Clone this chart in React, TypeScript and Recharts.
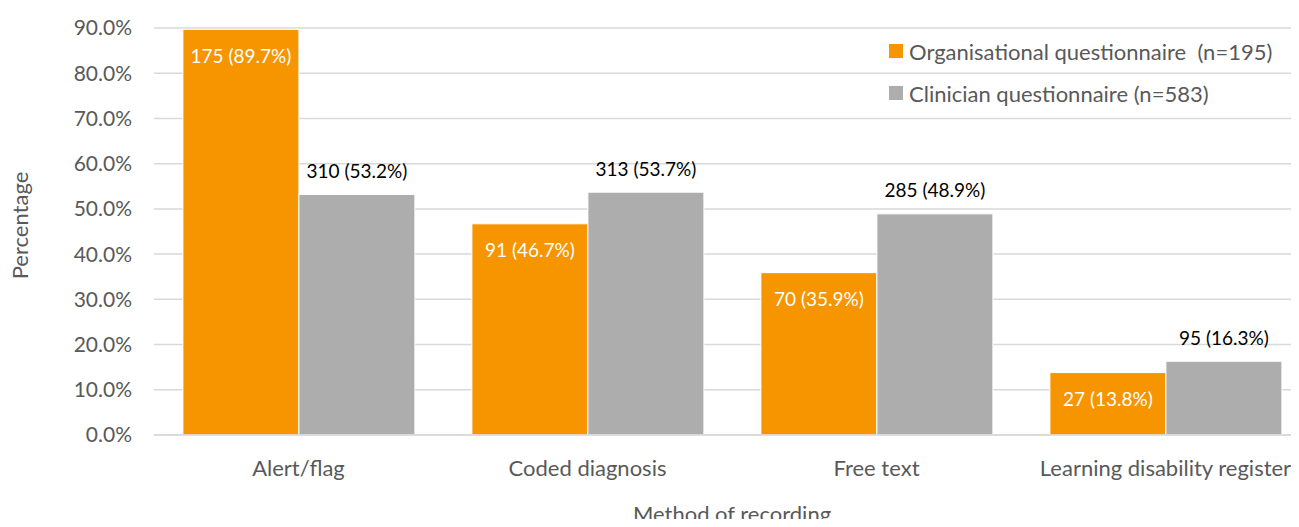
import { Bar, BarChart, CartesianGrid, LabelList, XAxis, YAxis } from "recharts";

const methods = ["Alert/flag", "Coded diagnosis", "Free text", "Learning disability register"];
const orgCounts = [175, 91, 70, 27];
const orgPct = [89.7, 46.7, 35.9, 13.8];
const clinCounts = [310, 313, 285, 95];
const clinPct = [53.2, 53.7, 48.9, 16.3];
const yTicks = [0, 10, 20, 30, 40, 50, 60, 70, 80, 90];
const seriesNames = ["Organisational questionnaire  (n=195)", "Clinician questionnaire (n=583)"];

const ORANGE = "#F79500";
const GREY = "#ADADAD";
const FONT = "Lato, 'Liberation Sans', sans-serif";

const data = methods.map((name, i) => ({
  name,
  org: orgPct[i],
  clin: clinPct[i],
}));

const orgLabel = (props: any) => {
  const { x, y, width, index } = props;
  return (
    <text x={x + width / 2} y={y + 26} fill="#fff" fontSize={19} fontFamily={FONT} textAnchor="middle" dominantBaseline="central">
      {`${orgCounts[index]} (${orgPct[index].toFixed(1)}%)`}
    </text>
  );
};

const clinLabel = (props: any) => {
  const { x, y, width, index } = props;
  return (
    <text x={x + width / 2} y={y - 24} fill="#000" fontSize={19} fontFamily={FONT} textAnchor="middle" dominantBaseline="central">
      {`${clinCounts[index]} (${clinPct[index].toFixed(1)}%)`}
    </text>
  );
};

function LegendBox() {
  const colors = [ORANGE, GREY];
  return (
    <div style={{ position: "absolute", left: 889, top: 30, fontFamily: FONT, fontSize: 22, color: "#595959" }}>
      {seriesNames.map((label, i) => (
        <div key={label} style={{ display: "flex", alignItems: "center", height: 42, whiteSpace: "pre" }}>
          <span style={{ width: 14, height: 14, background: colors[i], marginRight: 6, display: "inline-block" }} />
          {label}
        </div>
      ))}
    </div>
  );
}

export default function App() {
  return (
    <div style={{ margin: -8, width: 1299, height: 527, overflow: "hidden", background: "#fff", position: "relative" }}>
      <BarChart
        width={1320}
        height={527}
        data={data}
        margin={{ top: 28, right: 10, bottom: 0, left: 0 }}
        barCategoryGap="10%"
        barGap={0}
      >
        <CartesianGrid vertical={false} stroke="#D9D9D9" strokeWidth={1.5} />
        <XAxis
          dataKey="name"
          axisLine={{ stroke: "#D9D9D9", strokeWidth: 1.5 }}
          tickLine={false}
          height={92}
          tickMargin={19}
          tick={{ fill: "#595959", fontSize: 22, fontFamily: FONT }}
          label={{ value: "Method of recording", position: "insideBottom", offset: 5, fill: "#595959", fontSize: 22, fontFamily: FONT }}
        />
        <YAxis
          domain={[0, 90]}
          ticks={yTicks}
          width={154}
          axisLine={false}
          tickLine={false}
          tickMargin={16}
          tickFormatter={(v: number) => `${v.toFixed(1)}%`}
          tick={{ fill: "#595959", fontSize: 21, fontFamily: FONT }}
          label={{ value: "Percentage", angle: -90, position: "insideLeft", offset: 20, dy: -6, fill: "#595959", fontSize: 22, fontFamily: FONT, style: { textAnchor: "middle" } }}
        />
        <Bar dataKey="org" fill={ORANGE} stroke="#fff" strokeWidth={1} isAnimationActive={false}>
          <LabelList dataKey="org" content={orgLabel} />
        </Bar>
        <Bar dataKey="clin" fill={GREY} stroke="#fff" strokeWidth={1} isAnimationActive={false}>
          <LabelList dataKey="clin" content={clinLabel} />
        </Bar>
      </BarChart>
      <LegendBox />
    </div>
  );
}
